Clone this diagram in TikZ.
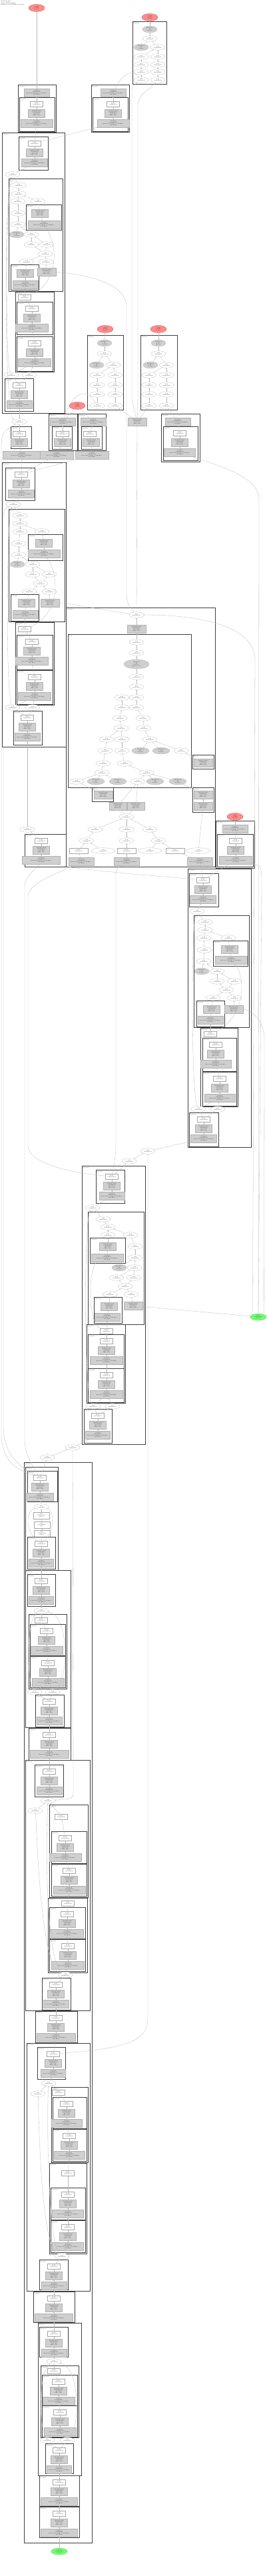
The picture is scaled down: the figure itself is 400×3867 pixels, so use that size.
\documentclass[tikz,border=0pt]{standalone}
\usepackage{tikz}
\usetikzlibrary{arrows.meta, shapes.geometric}

% cluster frame with its two-line caption
\newcommand{\clbox}[6]{%
  \draw[clus] (#2,#3) rectangle (#4,#5);
  \node[clab] (#1) at (#2+0.5,#3+0.4) {#6};}
% act / norm / conv block in its own frame
\newcommand{\blk}[7]{%
  \clbox{#1}{#2}{#3}{#4}{#5}{#7\\Sequential}
  \node[wbox] (#1a) at (#6,#3+10) {\tact};
  \node[gbox] (#1b) at (#6,#3+24) {\tnorm};
  \node[cbox, minimum width={#4-#2-5}] (#1c) at (#6,#3+39) {\tconv};
  \draw[edge] (#1c) -- (#1b);
  \draw[edge] (#1b) -- (#1a);}
\newcommand{\tact}{ReLU\\1x64x56x56}
\newcommand{\tnorm}{BatchNorm2d\\1x64x56x56\\eps 1e-05\\affine True}
\newcommand{\tconv}{Conv2d\\1x64x56x56\\kernel 3x3, stride 1, padding 1\\bias False}
\newcommand{\tel}{Add\\1x64x56x56}
\newcommand{\tpar}{Parameter\\64\\float32}
\newcommand{\tout}{output\\1x1000\\float32}
\newcommand{\tin}{input\\1x3x224x224\\float32}

\begin{document}
\begin{tikzpicture}[x=1pt, y=-1pt,
    every node/.style = {font=\fontsize{1.7}{2.0}\selectfont, align=center, inner sep=0.4pt},
    clus/.style = {draw=gray!50!black, line width=0.45pt},
    clab/.style = {anchor=north west, font=\fontsize{1.5}{1.8}\selectfont, align=left, inner sep=0.2pt},
    wbox/.style = {rectangle, draw=gray!70, fill=white, line width=0.25pt,
                   minimum width=19, minimum height=7.5},
    gbox/.style = {rectangle, draw=gray!60, fill=gray!38, line width=0.25pt,
                   minimum width=25, minimum height=12},
    cbox/.style = {gbox, minimum width=42},
    well/.style = {ellipse, draw=gray!60, fill=white, line width=0.25pt,
                   minimum width=22, minimum height=8.5},
    gell/.style = {ellipse, draw=gray!60, fill=gray!38, line width=0.25pt,
                   minimum width=22, minimum height=10},
    rell/.style = {ellipse, draw=red!55!gray, fill=red!45, line width=0.25pt,
                   minimum width=24, minimum height=11},
    nell/.style = {ellipse, draw=green!50!gray, fill=green!55, line width=0.25pt,
                   minimum width=24, minimum height=10},
    edge/.style = {draw=gray!55, line width=0.3pt, -{Stealth[length=1.6pt, width=1.2pt]}}
]
\fill[white] (0,0) rectangle (400,3867);
\useasboundingbox (0,0) rectangle (400,3867);

% ========= title =========
\node[clab, font=\fontsize{1.9}{2.3}\selectfont] (ttl) at (1,1)
    {model graph\\input 1x3x224x224\\parameters and buffers in grey};

% ========= heads =========
\node[rell] (outA) at (55,12)  {\tout};
\node[rell] (outB) at (225,26) {\tout};
\clbox{cB}{199}{32}{250}{126}{head\\Sequential}
\node[gell] (b1)  at (225,44)  {\tpar};
\node[well] (b2)  at (225,58)  {\tel};
\node[gell] (b3)  at (212,71)  {\tpar};
\node[well] (b4)  at (237,71)  {\tel};
\node[well] (b5)  at (212,85)  {\tel};
\node[well] (b6)  at (237,85)  {\tel};
\node[well] (b7)  at (212,97)  {\tel};
\node[well] (b8)  at (237,97)  {\tel};
\node[well] (b9)  at (212,108) {\tel};
\node[well] (b10) at (237,108) {\tel};
\node[well] (b11) at (212,120) {\tel};
\node[well] (b12) at (237,120) {\tel};

\clbox{cC1}{27}{127}{84}{198}{fc\\Sequential}
\node[cbox, minimum width=38] (c1t) at (55,139) {\tconv};
\blk{cC1i}{29}{146}{82}{197}{55}{0}
\clbox{cC2}{137}{127}{194}{198}{aux\\Sequential}
\node[cbox, minimum width=38] (c2t) at (170,139) {\tconv};
\blk{cC2i}{139}{146}{192}{197}{170}{0}

% ========= stage D =========
\clbox{cD}{3}{199}{97}{620}{layer4\\Sequential}
\blk{cD1}{28}{205}{72}{255}{52}{0}
\node[well] (d1) at (19,262) {\tel};
\clbox{cD2}{13}{268}{94}{437}{attn\\Block}
\node[well] (d2)  at (28,278) {\tel};
\node[well] (d3)  at (28,291) {\tel};
\node[well] (d4)  at (27,302) {\tel};
\node[well] (d5)  at (57,302) {\tel};
\clbox{cD2a}{39}{307}{92}{345}{qkv\\Sequential}
\node[gbox] (d2ag) at (60,320) {\tnorm};
\node[cbox, minimum width=48] (d2ac) at (66,337) {\tconv};
\node[well] (d6)  at (27,320) {\tel};
\node[well] (d7)  at (27,337) {\tel};
\node[gell] (d8)  at (25,352) {\tpar};
\node[well] (d9)  at (47,352) {\tel};
\node[well] (d10) at (47,367) {\tel};
\node[well] (d11) at (70,367) {\tel};
\node[well] (d12) at (68,381) {\tel};
\node[well] (d13) at (40,393) {\tel};
\node[well] (d14) at (69,393) {\tel};
\clbox{cD2b}{16}{397}{58}{435}{proj\\Sequential}
\node[gbox] (d2bg) at (38,410) {\tnorm};
\node[cbox, minimum width=38] (d2bc) at (38,427) {\tconv};
\node[gbox, minimum width=28] (dgr) at (70,408) {\tnorm};
\clbox{cD3}{23}{438}{81}{558}{mlp\\Sequential}
\node[wbox] (d3w) at (37,446) {\tact};
\blk{cD3a}{25}{453}{79}{502}{48}{0}
\blk{cD3b}{25}{505}{79}{557}{52}{1}
\node[well] (d15) at (17,563) {\tel};
\node[well] (d16) at (44,563) {\tel};
\blk{cD4}{7}{568}{50}{617}{29}{out}

\node[well] (e0) at (29,633) {\tel};
\clbox{cE}{16}{640}{47}{673}{stem\\Sequential}
\node[wbox] (ew) at (29,651) {\tact};
\node[gbox] (eg) at (29,664) {\tnorm};
\node[cbox, minimum width=58] (wA) at (33,683) {\tconv};
\node[cbox, minimum width=50] (wB) at (85,683) {\tconv};
\node[cbox, minimum width=50] (wC) at (138,683) {\tconv};

% ========= three middle heads =========
\node[rell] (outF) at (158,494) {\tout};
\clbox{cF}{131}{503}{185}{615}{head\_a\\Sequential}
\node[gell] (f1)  at (157,515) {\tpar};
\node[well] (f2)  at (157,531) {\tel};
\node[gell] (f3)  at (145,548) {\tpar};
\node[well] (f4)  at (170,548) {\tel};
\node[well] (f5)  at (146,563) {\tel};
\node[well] (f6)  at (173,563) {\tel};
\node[well] (f7)  at (146,578) {\tel};
\node[well] (f8)  at (173,578) {\tel};
\node[well] (f9)  at (146,592) {\tel};
\node[well] (f10) at (173,592) {\tel};
\node[well] (f11) at (146,609) {\tel};
\node[well] (f12) at (173,609) {\tel};
\node[rell] (outG) at (238,494) {\tout};
\clbox{cG}{211}{503}{266}{615}{head\_b\\Sequential}
\node[gell] (g1)  at (238,515) {\tpar};
\node[well] (g2)  at (238,531) {\tel};
\node[gell] (g3)  at (226,548) {\tpar};
\node[well] (g4)  at (250,548) {\tel};
\node[well] (g5)  at (224,563) {\tel};
\node[well] (g6)  at (250,563) {\tel};
\node[well] (g7)  at (224,578) {\tel};
\node[well] (g8)  at (250,578) {\tel};
\node[well] (g9)  at (224,592) {\tel};
\node[well] (g10) at (250,592) {\tel};
\node[well] (g11) at (224,609) {\tel};
\node[well] (g12) at (250,609) {\tel};
\node[gbox, minimum width=28] (gcat) at (206,633) {\tnorm};
\node[rell] (outH) at (116,609) {\tout};
\clbox{cH1}{73}{621}{116}{676}{lat1\\Sequential}
\node[cbox, minimum width=38] (h1t) at (94,633) {\tconv};
\clbox{cH1i}{78}{640}{108}{674}{0\\Sequential}
\node[wbox] (h1w) at (94,651) {\tact};
\node[gbox] (h1g) at (94,664) {\tnorm};
\clbox{cH2}{117}{621}{159}{676}{lat2\\Sequential}
\node[cbox, minimum width=38] (h2t) at (140,633) {\tconv};
\clbox{cH2i}{122}{640}{153}{674}{0\\Sequential}
\node[wbox] (h2w) at (135,651) {\tact};
\node[gbox] (h2g) at (137,664) {\tnorm};
\clbox{cI}{242}{621}{300}{693}{lat3\\Sequential}
\node[cbox, minimum width=38] (it) at (267,633) {\tconv};
\blk{cIi}{245}{640}{297}{691}{270}{0}

% ========= stage J =========
\clbox{cJ}{3}{694}{99}{1121}{layer3\\Sequential}
\blk{cJ1}{8}{702}{52}{751}{32}{0}
\node[well] (j1) at (20,757) {\tel};
\clbox{cJ2}{13}{764}{97}{933}{attn\\Block}
\node[well] (j2)  at (30,774) {\tel};
\node[well] (j3)  at (30,786) {\tel};
\node[well] (j4)  at (30,798) {\tel};
\node[well] (j5)  at (63,798) {\tel};
\clbox{cJ2a}{42}{802}{94}{841}{qkv\\Sequential}
\node[gbox] (j2ag) at (66,815) {\tnorm};
\node[cbox, minimum width=48] (j2ac) at (66,831) {\tconv};
\node[well] (j6)  at (28,816) {\tel};
\node[well] (j7)  at (28,833) {\tel};
\node[gell] (j8)  at (26,847) {\tpar};
\node[well] (j9)  at (49,847) {\tel};
\node[well] (j10) at (49,862) {\tel};
\node[well] (j11) at (74,862) {\tel};
\node[well] (j12) at (61,876) {\tel};
\node[well] (j13) at (44,888) {\tel};
\node[well] (j14) at (74,888) {\tel};
\clbox{cJ2b}{16}{892}{58}{932}{proj\\Sequential}
\node[gbox] (j2bg) at (40,905) {\tnorm};
\node[cbox, minimum width=38] (j2bc) at (38,922) {\tconv};
\node[gbox, minimum width=28] (jgr) at (75,905) {\tnorm};
\clbox{cJ3}{23}{934}{81}{1058}{mlp\\Sequential}
\node[wbox] (j3w) at (37,944) {\tact};
\blk{cJ3a}{25}{953}{79}{1005}{48}{0}
\blk{cJ3b}{25}{1006}{79}{1057}{52}{1}
\node[well] (j15) at (19,1062) {\tel};
\node[well] (j16) at (49,1062) {\tel};
\blk{cJ4}{20}{1067}{63}{1118}{41}{out}

% ========= stage K =========
\clbox{cK}{99}{912}{323}{1301}{neck\\Sequential}
\node[well] (k1) at (205,923) {\tel};
\node[gbox, minimum width=28] (k2) at (205,944) {\tnorm};
\clbox{cK1}{102}{952}{287}{1182}{fuse\\Block}
\node[well] (k3)  at (205,964)  {\tel};
\node[well] (k4)  at (205,980)  {\tel};
\node[gell, minimum width=38, minimum height=14] (k5) at (205,997) {\tpar\\(64, 64, 3, 3)};
\node[well] (k6)  at (205,1016) {\tel};
\node[well] (k7)  at (205,1031) {\tel};
\node[well] (k8)  at (183,1047) {\tel};
\node[well] (k9)  at (205,1047) {\tel};
\node[well] (k10) at (183,1062) {\tel};
\node[well] (k11) at (205,1062) {\tel};
\node[well] (k12) at (180,1078) {\tel};
\node[well] (k13) at (215,1078) {\tel};
\node[well] (k14) at (182,1093) {\tel};
\node[well] (k15) at (216,1093) {\tel};
\node[well] (k16) at (160,1110) {\tel};
\node[well] (k17) at (183,1110) {\tel};
\node[well] (k18) at (225,1110) {\tel};
\node[well] (k19) at (158,1127) {\tel};
\node[well] (k20) at (183,1127) {\tel};
\node[gell, minimum width=26] (k21) at (211,1127) {\tpar};
\node[gell, minimum width=26] (k22) at (242,1127) {\tpar};
\node[well] (k23) at (272,1127) {\tel};
\node[well] (k24) at (155,1146) {\tel};
\node[well] (k25) at (187,1146) {\tel};
\node[well] (k26) at (153,1160) {\tel};
\node[well] (k27) at (220,1160) {\tel};
\node[well] (k28) at (115,1173) {\tel};
\node[gell, minimum width=26] (k29) at (144,1173) {\tpar};
\node[gell, minimum width=26] (k30) at (177,1173) {\tpar};
\node[well] (k31) at (207,1173) {\tel};
\node[gell, minimum width=26] (k32) at (233,1173) {\tpar};
\node[gell, minimum width=26] (k33) at (267,1173) {\tpar};
\clbox{cK2}{289}{1133}{321}{1154}{gate\\Sigmoid}
\node[gbox, minimum width=28] (k2g) at (305,1145) {\tnorm};
\clbox{cK3}{138}{1182}{170}{1203}{gate\\Sigmoid}
\node[gbox, minimum width=28] (k3g) at (155,1193) {\tnorm};
\clbox{cK4}{289}{1182}{321}{1219}{gate\\Sequential}
\node[gbox, minimum width=28] (k4g) at (305,1193) {\tnorm};
\node[gbox, minimum width=28] (k4h) at (305,1210) {\tnorm};
\node[gbox, minimum width=26] (k34) at (177,1210) {\tnorm};
\node[gbox, minimum width=26] (k35) at (204,1210) {\tnorm};
\node[well] (k36) at (190,1226) {\tel};
\node[well] (k37) at (143,1245) {\tel};
\node[well] (k38) at (190,1245) {\tel};
\node[well] (k39) at (225,1245) {\tel};
\node[well] (k40) at (130,1262) {\tel};
\node[well] (k41) at (190,1262) {\tel};
\node[well] (k42) at (238,1262) {\tel};
\node[wbox, minimum width=28] (k43) at (118,1277) {\tact};
\node[wbox, minimum width=28] (k44) at (190,1277) {\tact};
\node[wbox, minimum width=28] (k45) at (263,1277) {\tact};
\node[well, minimum width=36] (k46) at (155,1277) {\tel};
\node[well, minimum width=36] (k47) at (225,1277) {\tel};
\node[well, minimum width=36] (k48) at (298,1277) {\tel};
\node[cbox, minimum width=38] (k49) at (122,1293) {\tconv};
\node[cbox, minimum width=38] (k50) at (190,1293) {\tconv};
\node[cbox, minimum width=38] (k51) at (300,1293) {\tconv};

\node[well] (l0) at (41,1245) {\tel};
\blk{cL}{37}{1252}{99}{1301}{62}{down}

\node[rell] (outM) at (353,1226) {\tout};
\clbox{cM}{324}{1232}{382}{1303}{lat4\\Sequential}
\node[cbox, minimum width=38] (mt) at (353,1244) {\tconv};
\blk{cMi}{326}{1252}{380}{1301}{354}{0}

% ========= stage N =========
\clbox{cN}{282}{1304}{377}{1722}{layer2\\Sequential}
\blk{cN1}{284}{1311}{328}{1361}{305}{0}
\node[well] (n1) at (296,1368) {\tel};
\clbox{cN2}{291}{1374}{374}{1542}{attn\\Block}
\node[well] (n2)  at (308,1384) {\tel};
\node[well] (n3)  at (308,1396) {\tel};
\node[well] (n4)  at (306,1408) {\tel};
\node[well] (n5)  at (343,1408) {\tel};
\clbox{cN2a}{320}{1412}{372}{1450}{qkv\\Sequential}
\node[gbox] (n2ag) at (345,1425) {\tnorm};
\node[cbox, minimum width=48] (n2ac) at (347,1441) {\tconv};
\node[well] (n6)  at (307,1426) {\tel};
\node[well] (n7)  at (306,1443) {\tel};
\node[gell] (n8)  at (303,1458) {\tpar};
\node[well] (n9)  at (326,1458) {\tel};
\node[well] (n10) at (326,1473) {\tel};
\node[well] (n11) at (352,1473) {\tel};
\node[well] (n12) at (340,1486) {\tel};
\node[well] (n13) at (320,1498) {\tel};
\node[well] (n14) at (352,1498) {\tel};
\clbox{cN2b}{295}{1502}{337}{1541}{proj\\Sequential}
\node[gbox] (n2bg) at (318,1515) {\tnorm};
\node[cbox, minimum width=38] (n2bc) at (316,1531) {\tconv};
\node[gbox, minimum width=28] (ngr) at (351,1515) {\tnorm};
\clbox{cN3}{301}{1543}{357}{1661}{mlp\\Sequential}
\node[wbox] (n3w) at (316,1552) {\tact};
\blk{cN3a}{304}{1558}{355}{1608}{324}{0}
\blk{cN3b}{304}{1609}{355}{1660}{330}{1}
\node[well] (n15) at (298,1665) {\tel};
\node[well] (n16) at (327,1665) {\tel};
\blk{cN4}{284}{1670}{328}{1721}{306}{out}

\node[well] (o0)  at (222,1728) {\tel};
\node[well] (o00) at (194,1743) {\tel};

% ========= stage O =========
\clbox{cO}{123}{1750}{218}{2168}{layer1\\Sequential}
\blk{cO1}{144}{1756}{187}{1806}{168}{0}
\node[well] (o1) at (139,1813) {\tel};
\clbox{cO2}{132}{1819}{216}{1988}{attn\\Block}
\node[well] (o2)  at (155,1830) {\tel};
\node[well] (o3)  at (162,1842) {\tel};
\node[well] (o4)  at (162,1854) {\tel};
\node[well] (o5)  at (196,1854) {\tel};
\clbox{cO2a}{135}{1858}{188}{1896}{qkv\\Sequential}
\node[gbox] (o2ag) at (162,1871) {\tnorm};
\node[cbox, minimum width=48] (o2ac) at (161,1888) {\tconv};
\node[well] (o6)  at (203,1871) {\tel};
\node[well] (o7)  at (203,1888) {\tel};
\node[gell] (o8)  at (179,1903) {\tpar};
\node[well] (o9)  at (202,1903) {\tel};
\node[well] (o10) at (175,1918) {\tel};
\node[well] (o11) at (201,1918) {\tel};
\node[well] (o12) at (188,1931) {\tel};
\node[well] (o13) at (165,1943) {\tel};
\node[well] (o14) at (197,1943) {\tel};
\clbox{cO2b}{141}{1947}{183}{1986}{proj\\Sequential}
\node[gbox] (o2bg) at (164,1961) {\tnorm};
\node[cbox, minimum width=38] (o2bc) at (161,1977) {\tconv};
\node[gbox, minimum width=28] (ogr) at (200,1960) {\tnorm};
\clbox{cO3}{130}{1988}{188}{2106}{mlp\\Sequential}
\node[wbox] (o3w) at (160,1998) {\tact};
\blk{cO3a}{132}{2003}{186}{2054}{160}{0}
\blk{cO3b}{132}{2054}{186}{2105}{160}{1}
\node[well] (o15) at (140,2111) {\tel};
\node[well] (o16) at (169,2111) {\tel};
\blk{cO4}{126}{2115}{168}{2166}{147}{out}

\node[nell] (inR) at (388,1977) {\tin};
\node[well] (p00) at (109,2173) {\tel};
\node[well] (p01) at (71,2188)  {\tel};

% ========= stage P =========
\clbox{cP}{36}{2195}{138}{3817}{backbone\\Sequential}
\clbox{cP1}{38}{2202}{87}{2357}{block1\\Bottleneck}
\blk{cP1a}{41}{2208}{86}{2254}{60}{0}
\node[well] (p1) at (62,2262) {\tel};
\node[wbox, minimum width=24, minimum height=10] (p2) at (62,2275) {Slice\\1x64x56x56\\dim 1};
\node[wbox, minimum width=24, minimum height=10] (p3) at (63,2289) {Slice\\1x64x56x56\\dim 1};
\node[wbox, minimum width=24, minimum height=10] (p4) at (63,2302) {Slice\\1x64x56x56\\dim 1};
\blk{cP1b}{41}{2307}{83}{2355}{62}{1}
\clbox{cP2}{38}{2357}{106}{2593}{block2\\Bottleneck}
\blk{cP2a}{41}{2363}{83}{2411}{62}{0}
\node[well] (p5) at (62,2418) {\tel};
\clbox{cP2b}{43}{2423}{100}{2535}{branch\\Sequential}
\node[wbox] (p2bw) at (62,2432) {\tact};
\blk{cP2b1}{45}{2438}{98}{2485}{70}{0}
\blk{cP2b2}{45}{2486}{98}{2533}{72}{1}
\node[well] (p6) at (52,2540) {\tel};
\node[well] (p7) at (79,2540) {\tel};
\blk{cP2c}{53}{2544}{96}{2592}{74}{out}
\blk{cP3}{43}{2594}{106}{2642}{74}{trans1}
\clbox{cP4}{38}{2642}{135}{3018}{block3\\Bottleneck}
\blk{cP4a}{52}{2649}{95}{2697}{74}{0}
\node[well] (p8) at (72,2703) {\tel};
\node[well] (p9) at (53,2718) {\tel};
\clbox{cP4b}{74}{2709}{132}{2848}{branch\\Sequential}
\node[wbox] (p4bw) at (92,2727) {\tact};
\blk{cP4b1}{77}{2749}{130}{2797}{98}{0}
\blk{cP4b2}{77}{2798}{130}{2846}{104}{1}
\clbox{cP4c}{72}{2849}{131}{2961}{branch\\Sequential}
\node[wbox] (p4cw) at (102,2857) {\tact};
\blk{cP4c1}{74}{2863}{128}{2910}{101}{0}
\blk{cP4c2}{74}{2911}{128}{2959}{102}{1}
\node[well] (p10) at (98,2965) {\tel};
\blk{cP4d}{63}{2969}{106}{3017}{84}{out}
\blk{cP5}{53}{3019}{116}{3066}{84}{trans2}
\clbox{cP6}{40}{3067}{135}{3439}{block4\\Bottleneck}
\blk{cP6a}{56}{3073}{98}{3121}{80}{0}
\node[well] (p11) at (73,3127) {\tel};
\node[well] (p12) at (57,3143) {\tel};
\clbox{cP6b}{77}{3133}{132}{3246}{branch\\Sequential}
\node[wbox] (p6bw) at (88,3141) {\tact};
\blk{cP6b1}{79}{3148}{130}{3195}{100}{0}
\blk{cP6b2}{79}{3196}{130}{3244}{104}{1}
\clbox{cP6c}{74}{3247}{130}{3383}{branch\\Sequential}
\node[wbox] (p6cw) at (102,3262) {\tact};
\blk{cP6c1}{76}{3284}{128}{3332}{102}{0}
\blk{cP6c2}{76}{3333}{128}{3381}{102}{1}
\node[well] (p13) at (93,3387) {\tel};
\blk{cP6d}{59}{3392}{102}{3437}{81}{out}
\blk{cP7}{50}{3440}{112}{3486}{81}{trans3}
\clbox{cP8}{57}{3487}{122}{3716}{block5\\Bottleneck}
\blk{cP8a}{59}{3493}{102}{3538}{81}{0}
\node[well] (p14) at (81,3545) {\tel};
\clbox{cP8b}{61}{3551}{118}{3659}{branch\\Sequential}
\node[wbox] (p8bw) at (81,3559) {\tact};
\blk{cP8b1}{63}{3565}{116}{3611}{88}{0}
\blk{cP8b2}{63}{3611}{116}{3658}{90}{1}
\node[well] (p15) at (71,3663)  {\tel};
\node[well] (p16) at (101,3663) {\tel};
\blk{cP8c}{68}{3668}{110}{3713}{89}{out}
\blk{cP9}{59}{3716}{119}{3762}{89}{stem2}
\blk{cP10}{59}{3763}{119}{3809}{89}{stem1}
\node[nell] (inS) at (89,3830) {\tin};

% ========= connectors: heads =========
\draw[edge] (b1) -- (outB);
\draw[edge] (b2) -- (b1);
\draw[edge] (b3) -- (b2);
\draw[edge] (b4) -- (b2);
\draw[edge] (b5) -- (b4);
\draw[edge] (b6) -- (b4);
\draw[edge] (b7) -- (b5);
\draw[edge] (b8) -- (b6);
\draw[edge] (b9) -- (b7);
\draw[edge] (b10) -- (b8);
\draw[edge] (b11) -- (b9);
\draw[edge] (b12) -- (b10);
\draw[edge] (c1t) -- (outA);
\draw[edge] (cC1ia) -- (c1t);
\draw[edge] (c2t) .. controls (180,118) and (195,100) .. (b11);
\draw[edge] (cC2ia) -- (c2t);
\draw[edge] (gcat) -- (198,600) -- (198,140) .. controls (198,130) .. (b11);
\draw[edge] (gcat) -- (207,600) -- (207,160) .. controls (207,140) and (225,135) .. (b12);
\draw[edge] (cD1a) -- (cC1ic);
\draw[edge] (cD1a) -- (cC2ic);

% ========= connectors: stage D =========
\draw[edge] (d1) -- (cD1c);
\draw[edge] (d2) -- (d1);
\draw[edge] (d3) -- (d2);
\draw[edge] (d4) -- (d3);
\draw[edge] (d5) -- (d3);
\draw[edge] (d2ag) -- (d5);
\draw[edge] (d2ac) -- (d2ag);
\draw[edge] (d6) -- (d4);
\draw[edge] (d7) -- (d6);
\draw[edge] (d8) -- (d7);
\draw[edge] (d9) -- (d7);
\draw[edge] (d10) -- (d9);
\draw[edge] (d11) -- (d9);
\draw[edge] (d12) -- (d10);
\draw[edge] (d12) -- (d11);
\draw[edge] (d13) -- (d12);
\draw[edge] (d14) -- (d12);
\draw[edge] (d2bg) -- (d13);
\draw[edge] (d2bc) -- (d2bg);
\draw[edge] (dgr) -- (d14);
\draw[edge] (d3w) -- (d2bc);
\draw[edge] (d3w) .. controls (80,430) and (92,380) .. (d2ac);
\draw[edge] (cD3aa) -- (d3w);
\draw[edge] (cD3ba) -- (cD3ac);
\draw[edge] (d15) -- (cD3bc);
\draw[edge] (d16) -- (cD3bc);
\draw[edge] (cD4a) -- (d15);
\draw[edge] (cD4a) -- (d16);
\draw[edge] (d15) .. controls (8,540) and (8,300) .. (d1);
\draw[edge] (e0) -- (cD4c);
\draw[edge] (e0) .. controls (6,625) and (6,290) .. (d1);
\draw[edge] (ew) -- (e0);
\draw[edge] (eg) -- (ew);
\draw[edge] (wA) -- (eg);
\draw[edge] (k1) .. controls (190,905) .. (190,880) -- (190,460) .. controls (190,420) and (110,410) .. (dgr);

% ========= connectors: middle heads =========
\draw[edge] (f1) -- (outF);
\draw[edge] (f2) -- (f1);
\draw[edge] (f3) -- (f2);
\draw[edge] (f4) -- (f2);
\draw[edge] (f5) -- (f4);
\draw[edge] (f6) -- (f4);
\draw[edge] (f7) -- (f5);
\draw[edge] (f8) -- (f6);
\draw[edge] (f9) -- (f7);
\draw[edge] (f10) -- (f8);
\draw[edge] (f11) -- (f9);
\draw[edge] (f12) -- (f10);
\draw[edge] (g1) -- (outG);
\draw[edge] (g2) -- (g1);
\draw[edge] (g3) -- (g2);
\draw[edge] (g4) -- (g2);
\draw[edge] (g5) -- (g4);
\draw[edge] (g6) -- (g4);
\draw[edge] (g7) -- (g5);
\draw[edge] (g8) -- (g6);
\draw[edge] (g9) -- (g7);
\draw[edge] (g10) -- (g8);
\draw[edge] (g11) -- (g9);
\draw[edge] (g12) -- (g10);
\draw[edge] (gcat) -- (f12);
\draw[edge] (gcat) -- (g11);
\draw[edge] (it) -- (g12);
\draw[edge] (h1t) -- (outH);
\draw[edge] (h2t) -- (outH);
\draw[edge] (h1t) .. controls (105,600) and (125,575) .. (f11);
\draw[edge] (h1w) -- (h1t);
\draw[edge] (h1g) -- (h1w);
\draw[edge] (h2w) -- (h2t);
\draw[edge] (h2g) -- (h2w);
\draw[edge] (cIia) -- (it);
\draw[edge] (wB) -- (h1g);
\draw[edge] (wC) -- (h2g);
\draw[edge] (k1) -- (gcat);

% ========= connectors: stage J =========
\draw[edge] (cJ1a) -- (wA);
\draw[edge] (cJ1a) -- (wB);
\draw[edge] (cJ1a) -- (wC);
\draw[edge] (j1) -- (cJ1c);
\draw[edge] (j2) -- (j1);
\draw[edge] (j3) -- (j2);
\draw[edge] (j4) -- (j3);
\draw[edge] (j5) -- (j3);
\draw[edge] (j2ag) -- (j5);
\draw[edge] (j2ac) -- (j2ag);
\draw[edge] (j6) -- (j4);
\draw[edge] (j7) -- (j6);
\draw[edge] (j8) -- (j7);
\draw[edge] (j9) -- (j7);
\draw[edge] (j10) -- (j9);
\draw[edge] (j11) -- (j9);
\draw[edge] (j12) -- (j10);
\draw[edge] (j12) -- (j11);
\draw[edge] (j13) -- (j12);
\draw[edge] (j14) -- (j12);
\draw[edge] (j2bg) -- (j13);
\draw[edge] (j2bc) -- (j2bg);
\draw[edge] (j3w) -- (j2bc);
\draw[edge] (j3w) .. controls (85,925) and (93,870) .. (j2ac);
\draw[edge] (cJ3aa) -- (j3w);
\draw[edge] (cJ3ba) -- (cJ3ac);
\draw[edge] (j15) -- (cJ3bc);
\draw[edge] (j16) -- (cJ3bc);
\draw[edge] (cJ4a) -- (j15);
\draw[edge] (cJ4a) -- (j16);
\draw[edge] (j15) .. controls (9,1040) and (9,780) .. (j1);
\draw[edge] (k1) .. controls (150,915) and (100,905) .. (jgr);
\draw[edge] (jgr) -- (j14);
\draw[edge] (l0) -- (cJ4c);
\draw[edge] (cLa) -- (l0);

% ========= connectors: stage K =========
\draw[edge] (k2) -- (k1);
\draw[edge] (k3) -- (k2);
\draw[edge] (k4) -- (k3);
\draw[edge] (k5) -- (k4);
\draw[edge] (k6) -- (k5);
\draw[edge] (k7) -- (k6);
\draw[edge] (k9) -- (k7);
\draw[edge] (k10) -- (k8);
\draw[edge] (k11) -- (k9);
\draw[edge] (k12) -- (k10);
\draw[edge] (k13) -- (k11);
\draw[edge] (k14) -- (k12);
\draw[edge] (k15) -- (k13);
\draw[edge] (k16) -- (k14);
\draw[edge] (k17) -- (k14);
\draw[edge] (k18) -- (k15);
\draw[edge] (k19) -- (k16);
\draw[edge] (k20) -- (k17);
\draw[edge] (k21) -- (k18);
\draw[edge] (k22) -- (k18);
\draw[edge] (k23) -- (k18);
\draw[edge] (k24) -- (k19);
\draw[edge] (k25) -- (k20);
\draw[edge] (k26) -- (k24);
\draw[edge] (k27) -- (k25);
\draw[edge] (k28) -- (k26);
\draw[edge] (k29) -- (k26);
\draw[edge] (k30) -- (k26);
\draw[edge] (k31) -- (k27);
\draw[edge] (k32) -- (k27);
\draw[edge] (k33) -- (k27);
\draw[edge] (k2g) -- (k23);
\draw[edge] (k3g) -- (k28);
\draw[edge] (k4g) -- (k33);
\draw[edge] (k4h) -- (k4g);
\draw[edge] (k34) -- (k31);
\draw[edge] (k35) -- (k31);
\draw[edge] (k36) -- (k34);
\draw[edge] (k36) -- (k35);
\draw[edge] (k37) -- (k36);
\draw[edge] (k38) -- (k36);
\draw[edge] (k39) -- (k36);
\draw[edge] (k40) -- (k37);
\draw[edge] (k41) -- (k38);
\draw[edge] (k42) -- (k39);
\draw[edge] (k43) -- (k40);
\draw[edge] (k46) -- (k40);
\draw[edge] (k44) -- (k41);
\draw[edge] (k45) -- (k42);
\draw[edge] (k47) -- (k42);
\draw[edge] (k48) -- (k4h);
\draw[edge] (k49) -- (k43);
\draw[edge] (k50) -- (k44);
\draw[edge] (k51) -- (k45);

% ========= connectors: stage M / N =========
\draw[edge] (mt) -- (outM);
\draw[edge] (cMia) -- (mt);
\draw[edge] (cN1a) -- (k51);
\draw[edge] (cN1a) -- (cMic);
\draw[edge] (cN1a) .. controls (200,1312) and (110,1305) .. (cLc);
\draw[edge] (n1) -- (cN1c);
\draw[edge] (n2) -- (n1);
\draw[edge] (n3) -- (n2);
\draw[edge] (n4) -- (n3);
\draw[edge] (n5) -- (n3);
\draw[edge] (n2ag) -- (n5);
\draw[edge] (n2ac) -- (n2ag);
\draw[edge] (n6) -- (n4);
\draw[edge] (n7) -- (n6);
\draw[edge] (n8) -- (n7);
\draw[edge] (n9) -- (n7);
\draw[edge] (n10) -- (n9);
\draw[edge] (n11) -- (n9);
\draw[edge] (n12) -- (n10);
\draw[edge] (n12) -- (n11);
\draw[edge] (n13) -- (n12);
\draw[edge] (n14) -- (n12);
\draw[edge] (n2bg) -- (n13);
\draw[edge] (n2bc) -- (n2bg);
\draw[edge] (ngr) -- (n14);
\draw[edge] (n3w) -- (n2bc);
\draw[edge] (n3w) .. controls (365,1530) and (372,1470) .. (n2ac);
\draw[edge] (cN3aa) -- (n3w);
\draw[edge] (cN3ba) -- (cN3ac);
\draw[edge] (n15) -- (cN3bc);
\draw[edge] (n16) -- (cN3bc);
\draw[edge] (cN4a) -- (n15);
\draw[edge] (cN4a) -- (n16);
\draw[edge] (n15) .. controls (287,1640) and (287,1390) .. (n1);
\draw[edge] (o0) -- (cN4c);
\draw[edge] (o00) -- (o0);

% ========= connectors: stage O =========
\draw[edge] (cO1a) -- (o00);
\draw[edge] (cO1a) .. controls (172,1745) .. (174,1725) -- (174,1320) .. controls (174,1305) .. (k50);
\draw[edge] (cO1a) .. controls (100,1760) and (42,1745) .. (42,1720) -- (42,1345) .. controls (42,1325) and (90,1310) .. (k49);
\draw[edge] (o1) -- (cO1c);
\draw[edge] (o2) -- (o1);
\draw[edge] (o3) -- (o2);
\draw[edge] (o4) -- (o3);
\draw[edge] (o5) -- (o3);
\draw[edge] (o2ag) -- (o4);
\draw[edge] (o2ac) -- (o2ag);
\draw[edge] (o6) -- (o5);
\draw[edge] (o7) -- (o6);
\draw[edge] (o8) -- (o7);
\draw[edge] (o9) -- (o7);
\draw[edge] (o10) -- (o9);
\draw[edge] (o11) -- (o9);
\draw[edge] (o12) -- (o10);
\draw[edge] (o12) -- (o11);
\draw[edge] (o13) -- (o12);
\draw[edge] (o14) -- (o12);
\draw[edge] (o2bg) -- (o13);
\draw[edge] (o2bc) -- (o2bg);
\draw[edge] (ogr) -- (o14);
\draw[edge] (o3w) -- (o2bc);
\draw[edge] (o3w) .. controls (130,1985) and (133,1900) .. (o2ac);
\draw[edge] (cO3aa) -- (o3w);
\draw[edge] (cO3ba) -- (cO3ac);
\draw[edge] (o15) -- (cO3bc);
\draw[edge] (o16) -- (cO3bc);
\draw[edge] (cO4a) -- (o15);
\draw[edge] (cO4a) -- (o16);
\draw[edge] (o15) .. controls (126,2090) and (126,1830) .. (o1);
\draw[edge] (p00) -- (cO4c);
\draw[edge] (p01) -- (p00);
\draw[edge] (cP1aa) -- (p01);

% ========= connectors: input on the right =========
\draw[edge] (inR) -- (ogr);
\draw[edge] (inR.north west) -- (383,990) .. controls (383,940) and (300,923) .. (k1);
\draw[edge] (inR.north) -- (389,750) .. controls (389,715) and (330,700) .. (cIic);
\draw[edge] (inR.north) -- (393,1330) .. controls (393,1300) .. (cMic);
\draw[edge] (inR.north east) -- (397,1560) .. controls (397,1525) and (370,1515) .. (ngr);

% ========= connectors: long left runs =========
\draw[edge] (cP1aa) .. controls (20,2205) and (2,2190) .. (2,2150) -- (2,680) .. controls (2,650) .. (e0);
\draw[edge] (cP1aa) .. controls (25,2200) and (5,2180) .. (5,2140) -- (5,790) .. controls (5,765) .. (j1);
\draw[edge] (cP1aa) .. controls (45,2195) and (37,2180) .. (37,2160) -- (37,1330) .. controls (37,1315) and (55,1305) .. (cLc);
\draw[edge] (cP6aa) .. controls (200,3075) and (222,3060) .. (222,3030) -- (o0);
\draw[edge] (p00) -- (110,2690) .. controls (110,2700) .. (p8);

% ========= connectors: stage P =========
\draw[edge] (p1) -- (cP1ac);
\draw[edge] (p2) -- (p1);
\draw[edge] (p3) -- (p2);
\draw[edge] (p4) -- (p3);
\draw[edge] (cP1ba) -- (p4);
\draw[edge] (cP1ba) .. controls (38,2300) and (38,2268) .. (p1);
\draw[edge] (cP1ba) .. controls (82,2300) and (82,2268) .. (p1);
\draw[edge] (cP2aa) -- (cP1bc);
\draw[edge] (p5) -- (cP2ac);
\draw[edge] (p2bw) -- (p5);
\draw[edge] (cP2b1a) -- (p2bw);
\draw[edge] (cP2b2a) -- (cP2b1c);
\draw[edge] (p6) -- (cP2b2c);
\draw[edge] (p7) -- (cP2b2c);
\draw[edge] (p7) .. controls (104,2520) and (104,2425) .. (p5);
\draw[edge] (p6) .. controls (40,2520) and (40,2430) .. (p5);
\draw[edge] (cP2ca) -- (p6);
\draw[edge] (cP2ca) -- (p7);
\draw[edge] (cP3a) -- (cP2cc);
\draw[edge] (cP4aa) -- (cP3c);
\draw[edge] (p8) -- (cP4ac);
\draw[edge] (p9) -- (p8);
\draw[edge] (p4bw) -- (p8);
\draw[edge] (cP4b1a) -- (p4bw);
\draw[edge] (cP4b2a) -- (cP4b1c);
\draw[edge] (p4cw) -- (cP4b2c);
\draw[edge] (cP4c1a) -- (p4cw);
\draw[edge] (cP4c2a) -- (cP4c1c);
\draw[edge] (p10) -- (cP4c2c);
\draw[edge] (p10) .. controls (60,2950) and (55,2740) .. (p9);
\draw[edge] (p10) .. controls (70,2945) and (68,2780) .. (p8);
\draw[edge] (cP4da) -- (p10);
\draw[edge] (cP5a) -- (cP4dc);
\draw[edge] (cP6aa) -- (cP5c);
\draw[edge] (p11) -- (cP6ac);
\draw[edge] (p12) -- (p11);
\draw[edge] (p6bw) -- (p11);
\draw[edge] (cP6b1a) -- (p6bw);
\draw[edge] (cP6b2a) -- (cP6b1c);
\draw[edge] (p6cw) -- (cP6b2c);
\draw[edge] (cP6c1a) -- (p6cw);
\draw[edge] (cP6c2a) -- (cP6c1c);
\draw[edge] (p13) -- (cP6c2c);
\draw[edge] (p13) .. controls (60,3370) and (58,3160) .. (p12);
\draw[edge] (p13) .. controls (72,3365) and (70,3180) .. (p11);
\draw[edge] (cP6da) -- (p13);
\draw[edge] (cP7a) -- (cP6dc);
\draw[edge] (cP8aa) -- (cP7c);
\draw[edge] (p14) -- (cP8ac);
\draw[edge] (p8bw) -- (p14);
\draw[edge] (cP8b1a) -- (p8bw);
\draw[edge] (cP8b2a) -- (cP8b1c);
\draw[edge] (p15) -- (cP8b2c);
\draw[edge] (p16) -- (cP8b2c);
\draw[edge] (p15) .. controls (58,3640) and (58,3560) .. (p14);
\draw[edge] (p16) .. controls (121,3640) and (120,3555) .. (p14);
\draw[edge] (cP8ca) -- (p15);
\draw[edge] (cP8ca) -- (p16);
\draw[edge] (cP9a) -- (cP8cc);
\draw[edge] (cP10a) -- (cP9c);
\draw[edge] (inS) -- (cP10c);

\end{tikzpicture}
\end{document}
